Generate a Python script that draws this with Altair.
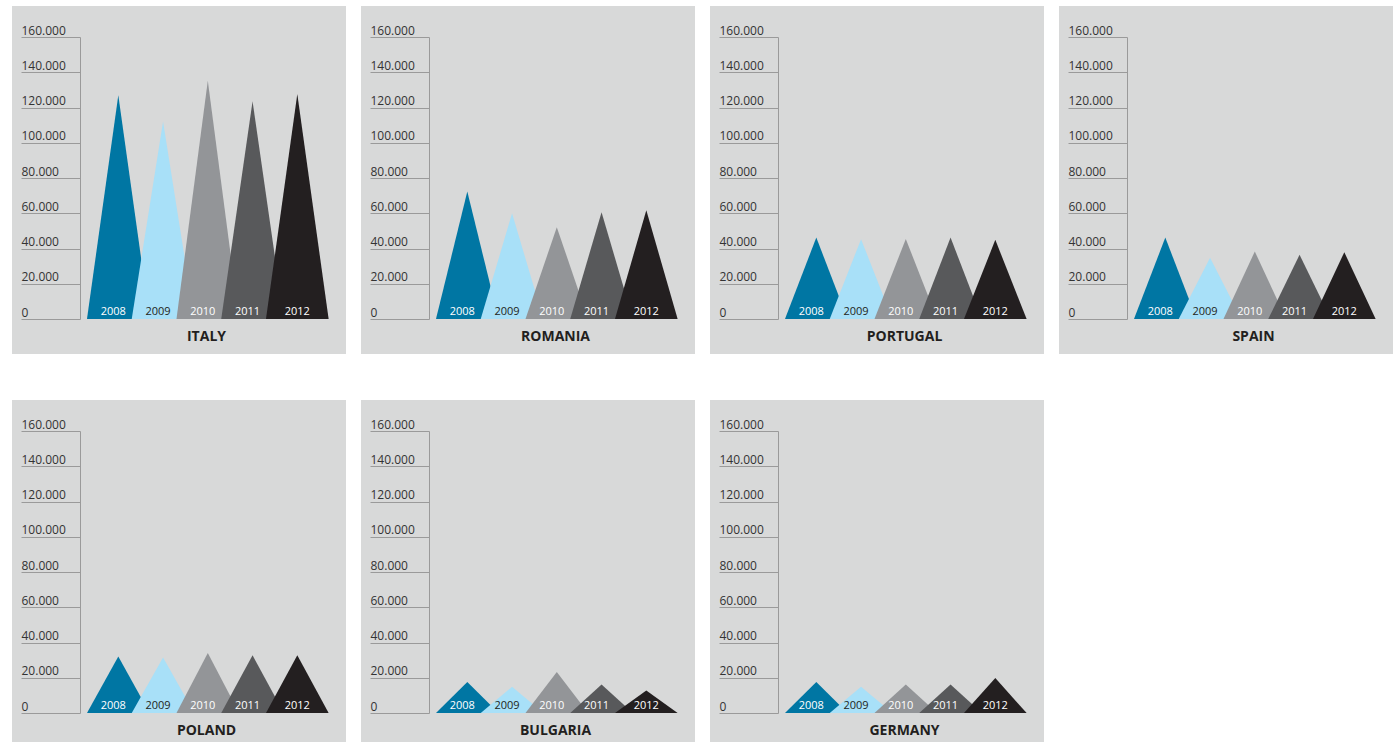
import altair as alt
import pandas as pd

# ---- data ----
countries = ["ITALY", "ROMANIA", "PORTUGAL", "SPAIN", "POLAND", "BULGARIA", "GERMANY"]
years = ["2008", "2009", "2010", "2011", "2012"]
italy = [126900, 112100, 135200, 123500, 127600]
romania = [72300, 60000, 52100, 60600, 61700]
portugal = [46200, 45300, 45400, 46200, 44900]
spain = [46200, 34800, 38300, 36400, 37900]
poland = [32100, 31500, 34000, 32700, 32700]
bulgaria = [17600, 14900, 23200, 16100, 12800]
germany = [17600, 14900, 16100, 16100, 19800]
y_ticks = [0, 20000, 40000, 60000, 80000, 100000, 120000, 140000, 160000]

series = [italy, romania, portugal, spain, poland, bulgaria, germany]

# ---- styling ----
year_colors = ["#0076a3", "#a8e0f8", "#939598", "#58595b", "#231f20"]
label_colors = ["#ffffff", "#231f20", "#ffffff", "#ffffff", "#ffffff"]
BG = "#d8d9d9"
FONT = "Open Sans"
HW = 0.7  # half-width of each triangle, in slot units

W, H = 260, 282
xs = alt.Scale(domain=[-0.856, 4.954], nice=False, zero=False)
ys = alt.Scale(domain=[0, 160000], nice=False, zero=True)

yaxis = alt.Axis(
    values=y_ticks, tickSize=59, labelPadding=0, labelAlign="left",
    labelBaseline="alphabetic", labelOffset=-3,
    labelExpr="replace(format(datum.value, ','), ',', '.')",
    tickColor="#9a9a9a", domainColor="#9a9a9a", labelColor="#333333",
    labelFontSize=12, labelFont=FONT, title=None, grid=False,
    labelFlush=False, labelOverlap=False, zindex=1,
)


def xaxis(name):
    return alt.Axis(
        title=name, labels=False, ticks=False, domain=False, grid=False,
        titleFontSize=14, titleFontWeight="bold", titleColor="#231f20",
        titlePadding=10, titleFont=FONT, titleX=126, zindex=1,
    )


def panel(name, values):
    bg = alt.Chart(pd.DataFrame({"a": [0]})).mark_rect(color=BG).encode(
        x=alt.value(-68), x2=alt.value(W + 6), y=alt.value(-31), y2=alt.value(H + 35)
    )
    layers = [bg]
    for i, (yr, v) in enumerate(zip(years, values)):
        tri = pd.DataFrame({"x": [i - HW, i, i + HW], "y": [0, v, 0]})
        layers.append(
            alt.Chart(tri).mark_area(color=year_colors[i]).encode(
                x=alt.X("x:Q", scale=xs, axis=xaxis(name)),
                y=alt.Y("y:Q", scale=ys, stack=None, axis=yaxis),
            )
        )
    for i, yr in enumerate(years):
        lab = pd.DataFrame({"x": [i], "y": [0], "t": [yr]})
        layers.append(
            alt.Chart(lab).mark_text(
                color=label_colors[i], fontSize=11, font=FONT,
                baseline="alphabetic", dy=-4, dx=(-5 if i < 4 else 0),
            ).encode(
                x=alt.X("x:Q", scale=xs, axis=xaxis(name)),
                y=alt.Y("y:Q", scale=ys, axis=yaxis),
                text="t:N",
            )
        )
    return alt.layer(*layers).properties(width=W, height=H)


panels = [panel(n, s) for n, s in zip(countries, series)]

chart = alt.vconcat(
    alt.hconcat(*panels[:4], spacing=15),
    alt.hconcat(*panels[4:], spacing=15),
    spacing=46,
).properties(
    padding={"left": 12, "top": 6, "right": 0, "bottom": 0},
    background="white",
).configure_view(stroke=None)

chart.save("out.html", embed_options={"renderer": "svg", "actions": False})
